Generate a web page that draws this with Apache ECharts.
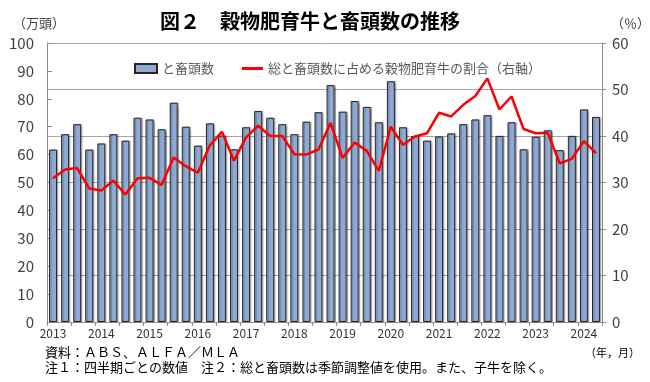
<!DOCTYPE html>
<html>
<head>
<meta charset="utf-8">
<script src="https://cdn.jsdelivr.net/npm/echarts@6/dist/echarts.min.js"></script>
<style>
html,body{margin:0;padding:0;background:#fff;}
#chart{width:650px;height:382px;}
</style>
</head>
<body>
<div id="chart"></div>
<script>
const years = ["2013","2014","2015","2016","2017","2018","2019","2020","2021","2022","2023","2024"];
const quarters = ["1","4","7","10"];
const nQuarters = 46;
const slaughter = [61.8,67.3,70.9,61.8,64.0,67.3,65.0,73.2,72.6,69.1,78.6,70.0,
  63.2,71.2,66.8,61.9,69.8,75.6,73.2,70.9,67.3,71.8,75.2,84.9,
  75.4,79.2,77.1,71.6,86.3,69.8,66.7,65.0,66.5,67.6,70.9,72.6,
  74.1,66.7,71.6,61.9,66.4,68.7,61.6,66.7,76.2,73.5];
const grainShare = [30.9,32.8,33.1,28.7,28.3,30.4,27.4,30.9,31.0,29.5,35.4,33.5,
  32.1,38.0,40.9,34.7,39.7,42.2,40.0,40.0,36.1,36.0,37.1,42.8,
  35.3,38.6,36.8,32.5,42.0,38.1,39.9,40.6,45.0,44.2,46.7,48.6,
  52.4,45.7,48.5,41.5,40.6,40.7,34.1,35.1,38.9,36.3];
const leftTicks = [0,100,10];
const rightTicks = [0,60,10];
const seriesNames = ["と畜頭数","総と畜頭数に占める穀物肥育牛の割合（右軸）"];

const categories = [];
for (let i = 0; i < nQuarters; i++) {
  categories.push(years[Math.floor(i/4)] + "." + quarters[i%4]);
}

const FONT = "'Noto Sans CJK JP', 'Noto Sans', sans-serif";
const chart = echarts.init(document.getElementById('chart'));
chart.setOption({
  animation: false,
  textStyle: {fontFamily: FONT},
  title: [
    {text: "図２　穀物肥育牛と畜頭数の推移", left: 305, top: 6, textAlign: 'center',
     textStyle: {fontSize: 20, fontWeight: 'bold', color: '#000', fontFamily: FONT}},
    {text: "（万頭）", left: 8, top: 12, textStyle: {fontSize: 13, fontWeight: 'normal', color: '#404040', fontFamily: FONT}},
    {text: "（％）", left: 606, top: 12, textStyle: {fontSize: 13, fontWeight: 'normal', color: '#404040', fontFamily: FONT}},
    {text: "（年，月）", left: 580, top: 342, textStyle: {fontSize: 11, fontWeight: 'normal', color: '#000', fontFamily: FONT}},
    {text: "資料：ＡＢＳ、ＡＬＦＡ／ＭＬＡ", left: 40, top: 341, textStyle: {fontSize: 13, fontWeight: 'normal', color: '#000', fontFamily: FONT}},
    {text: "注１：四半期ごとの数値　注２：総と畜頭数は季節調整値を使用。また、子牛を除く。", left: 40, top: 356, textStyle: {fontSize: 13, fontWeight: 'normal', color: '#000', fontFamily: FONT}}
  ],
  legend: [
    {left: 129, top: 57, itemWidth: 22, itemHeight: 9, itemGap: 4,
     textStyle: {fontSize: 13, color: '#595959', fontFamily: FONT},
     data: [{name: seriesNames[0], icon: 'rect'}]},
    {left: 237, top: 57, itemWidth: 21, itemHeight: 3, itemGap: 4,
     textStyle: {fontSize: 13, color: '#595959', fontFamily: FONT},
     data: [{name: seriesNames[1], icon: 'rect', itemStyle: {color: '#FF0000', borderWidth: 0}}]}
  ],
  grid: {left: 47, right: 48, top: 43, bottom: 60, containLabel: false},
  xAxis: {
    type: 'category', data: categories, boundaryGap: true,
    axisLine: {show: true, lineStyle: {color: '#8c8c8c', width: 1}},
    axisTick: {show: true, interval: 1, length: 4, lineStyle: {color: '#8c8c8c'}},
    axisLabel: {interval: 3, fontSize: 12, color: '#333', margin: 5,
      formatter: v => v.split('.')[0]}
  },
  yAxis: [
    {type: 'value', min: leftTicks[0], max: leftTicks[1], interval: leftTicks[2],
     axisLine: {show: true, lineStyle: {color: '#8c8c8c'}},
     axisTick: {show: true, inside: true, length: 5, lineStyle: {color: '#8c8c8c'}},
     splitLine: {show: false},
     axisLabel: {fontSize: 15, color: '#404040', margin: 13}},
    {type: 'value', min: rightTicks[0], max: rightTicks[1], interval: rightTicks[2], position: 'right',
     axisLine: {show: true, lineStyle: {color: '#8c8c8c'}},
     axisTick: {show: true, inside: false, length: 4, lineStyle: {color: '#8c8c8c'}},
     splitLine: {show: true, lineStyle: {color: '#a6a6a6', width: 1}},
     axisLabel: {fontSize: 15, color: '#404040', margin: 10}}
  ],
  series: [
    {name: seriesNames[0], type: 'bar', data: slaughter, yAxisIndex: 0,
     barCategoryGap: '34%',
     itemStyle: {color: '#8EA9D3', borderColor: '#262626', borderWidth: 1,
       shadowColor: 'rgba(0,0,0,0.25)', shadowOffsetX: 1.5, shadowOffsetY: 0, shadowBlur: 1}},
    {name: seriesNames[1], type: 'line', data: grainShare, yAxisIndex: 1,
     symbol: 'none', z: 5,
     lineStyle: {color: '#FF0000', width: 2.5}, itemStyle: {color: '#FF0000'}}
  ]
});
</script>
</body>
</html>
